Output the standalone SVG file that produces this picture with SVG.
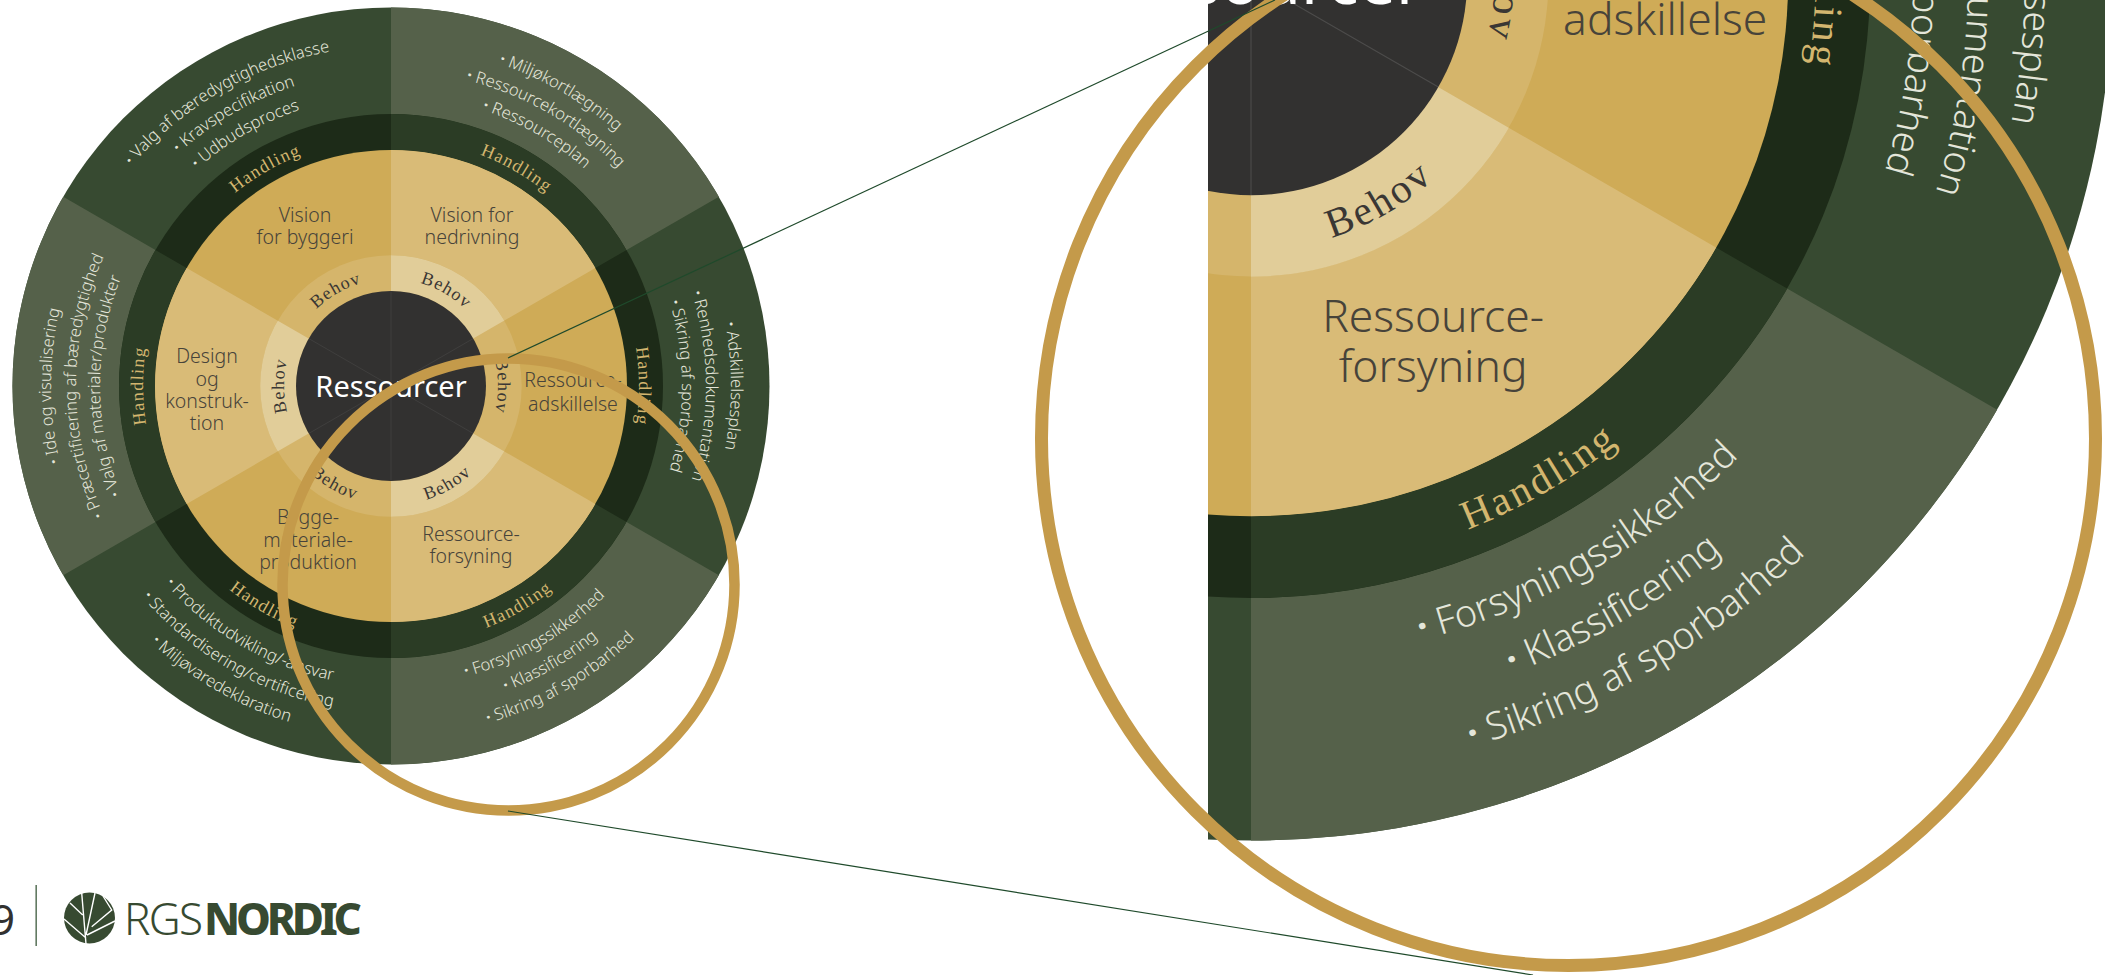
<svg xmlns="http://www.w3.org/2000/svg" xmlns:xlink="http://www.w3.org/1999/xlink" width="2105" height="975" viewBox="0 0 2105 975">
<style>
.list{font-family:"Noto Sans","Open Sans",sans-serif;font-weight:300;font-size:16.6px;fill:#e4e6da;text-anchor:middle}
.list tspan{font-weight:700}
.lab{font-family:"Noto Sans","Open Sans",sans-serif;font-weight:300;font-size:19.5px;fill:#47433a;text-anchor:middle}
.h{font-family:"Liberation Serif",serif;font-size:18px;letter-spacing:1.3px;fill:#d3b66f;text-anchor:middle}
.b{font-family:"Liberation Serif",serif;font-size:18px;letter-spacing:1.2px;fill:#3a3734;text-anchor:middle}
.c{font-family:"Noto Sans","Open Sans",sans-serif;font-size:29px;fill:#fff;text-anchor:middle}
.seam{stroke:#fff;stroke-opacity:.13;stroke-width:.5;fill:none}
.vein{stroke:#fff;stroke-width:1.4;fill:none}
.ring{fill:none}
</style>
<defs>
<clipPath id="lightSectors"><polygon points="0,0 0,-1000 866,-500"/><polygon points="0,0 866,500 0,1000"/><polygon points="0,0 -866,500 -866,-500"/></clipPath>
<clipPath id="bigClip"><rect x="1208" y="0" width="897" height="975"/></clipPath>
<path id="a340" d="M-218.6-260.4A340 340 0 0 1 218.6-260.4"/>
<path id="a315" d="M-202.5-241.3A315 315 0 0 1 202.5-241.3"/>
<path id="a291" d="M-187.06-222.9A291 291 0 0 1 187.06-222.9"/>
<path id="a248" d="M-159.4-190A248 248 0 0 1 159.4-190"/>
<path id="a107" d="M-68.8-82A107 107 0 0 1 68.8-82"/>
<path id="i300" d="M-192.8 229.8A300 300 0 0 0 192.8 229.8"/>
<path id="i326" d="M-209.5 249.7A326 326 0 0 0 209.5 249.7"/>
<path id="i351" d="M-225.6 268.9A351 351 0 0 0 225.6 268.9"/>
<path id="i260" d="M-167.1 199.2A260 260 0 0 0 167.1 199.2"/>
<path id="i119" d="M-76.5 91.2A119 119 0 0 0 76.5 91.2"/>
<g id="discs">
<circle r="378.5" fill="#374a31"/><circle r="272" fill="#1d2b18"/><circle r="236" fill="#cfab57"/><circle r="130.7" fill="#d5b56b"/>
<g clip-path="url(#lightSectors)">
<circle class="ring" r="325.25" stroke="#55614a" stroke-width="106.5"/>
<circle class="ring" r="254" stroke="#2b3c25" stroke-width="36"/>
<circle class="ring" r="183.35" stroke="#d9bb77" stroke-width="105.3"/>
<circle class="ring" r="112.8" stroke="#e1cd99" stroke-width="36"/>
</g>
<circle r="95" fill="#323130"/>
<path class="seam" d="M0-95V95M-82.3-47.5L82.3 47.5M-82.3 47.5L82.3-47.5"/>
</g>
</defs>

<g id="wheel" transform="translate(391,386)">
<use href="#discs"/>
<g id="sector-vision-byggeri">
<text class="lab" x="-86" y="-164">Vision</text><text class="lab" x="-86" y="-142">for byggeri</text>
<text class="b" transform="rotate(-30)"><textPath href="#a107" startOffset="50%">Behov</textPath></text>
<text class="h" transform="rotate(-30)"><textPath href="#a248" startOffset="50%">Handling</textPath></text>
<text class="list" transform="rotate(-30)"><textPath href="#a340" startOffset="50%"><tspan>·</tspan> Valg af bæredygtighedsklasse</textPath></text>
<text class="list" transform="rotate(-30)"><textPath href="#a315" startOffset="50%"><tspan>·</tspan> Kravspecifikation</textPath></text>
<text class="list" transform="rotate(-30)"><textPath href="#a291" startOffset="50%"><tspan>·</tspan> Udbudsproces</textPath></text>
</g>
<g id="sector-vision-nedrivning">
<text class="lab" x="81" y="-164">Vision for</text><text class="lab" x="81" y="-142">nedrivning</text>
<text class="b" transform="rotate(30)"><textPath href="#a107" startOffset="50%">Behov</textPath></text>
<text class="h" transform="rotate(30)"><textPath href="#a248" startOffset="50%">Handling</textPath></text>
<text class="list" transform="rotate(30)"><textPath href="#a340" startOffset="50%"><tspan>·</tspan> Miljøkortlægning</textPath></text>
<text class="list" transform="rotate(30)"><textPath href="#a315" startOffset="50%"><tspan>·</tspan> Ressourcekortlægning</textPath></text>
<text class="list" transform="rotate(30)"><textPath href="#a291" startOffset="50%"><tspan>·</tspan> Ressourceplan</textPath></text>
</g>
<g id="sector-adskillelse">
<text class="lab" x="182" y="1">Ressource-</text><text class="lab" x="182" y="24.6">adskillelse</text>
<text class="b" transform="rotate(90)"><textPath href="#a107" startOffset="50%">Behov</textPath></text>
<text class="h" transform="rotate(90)"><textPath href="#a248" startOffset="50%">Handling</textPath></text>
<text class="list" transform="rotate(90)"><textPath href="#a340" startOffset="50%"><tspan>·</tspan> Adskillelsesplan</textPath></text>
<text class="list" transform="rotate(90)"><textPath href="#a315" startOffset="50%"><tspan>·</tspan> Renhedsdokumentation</textPath></text>
<text class="list" transform="rotate(90)"><textPath href="#a291" startOffset="50%"><tspan>·</tspan> Sikring af sporbarhed</textPath></text>
</g>
<g id="sector-forsyning">
<text class="lab" x="80" y="155">Ressource-</text><text class="lab" x="80" y="177">forsyning</text>
<text class="b" transform="rotate(-30)"><textPath href="#i119" startOffset="50%">Behov</textPath></text>
<text class="h" transform="rotate(-30)"><textPath href="#i260" startOffset="50%">Handling</textPath></text>
<text class="list" transform="rotate(-30)"><textPath href="#i300" startOffset="50%"><tspan>·</tspan> Forsyningssikkerhed</textPath></text>
<text class="list" transform="rotate(-30)"><textPath href="#i326" startOffset="50%"><tspan>·</tspan> Klassificering</textPath></text>
<text class="list" transform="rotate(-30)"><textPath href="#i351" startOffset="50%"><tspan>·</tspan> Sikring af sporbarhed</textPath></text>
</g>
<g id="sector-produktion">
<text class="lab" x="-83" y="138">Bygge-</text><text class="lab" x="-83" y="161">materiale-</text><text class="lab" x="-83" y="183">produktion</text>
<text class="b" transform="rotate(30)"><textPath href="#i119" startOffset="50%">Behov</textPath></text>
<text class="h" transform="rotate(30)"><textPath href="#i260" startOffset="50%">Handling</textPath></text>
<text class="list" transform="rotate(30)"><textPath href="#i300" startOffset="50%"><tspan>·</tspan> Produktudvikling/-ansvar</textPath></text>
<text class="list" transform="rotate(30)"><textPath href="#i326" startOffset="50%"><tspan>·</tspan> Standardisering/certificering</textPath></text>
<text class="list" transform="rotate(30)"><textPath href="#i351" startOffset="50%"><tspan>·</tspan> Miljøvaredeklaration</textPath></text>
</g>
<g id="sector-design">
<text class="lab" x="-184" y="-23">Design</text><text class="lab" x="-184" y="0">og</text><text class="lab" x="-184" y="22">konstruk-</text><text class="lab" x="-184" y="44">tion</text>
<text class="b" transform="rotate(-90)"><textPath href="#a107" startOffset="50%">Behov</textPath></text>
<text class="h" transform="rotate(-90)"><textPath href="#a248" startOffset="50%">Handling</textPath></text>
<text class="list" transform="rotate(-90)"><textPath href="#a340" startOffset="50%"><tspan>·</tspan> Ide og visualisering</textPath></text>
<text class="list" transform="rotate(-90)"><textPath href="#a315" startOffset="50%"><tspan>·</tspan> Præcertificering af bæredygtighed</textPath></text>
<text class="list" transform="rotate(-90)"><textPath href="#a291" startOffset="50%"><tspan>·</tspan> Valg af materialer/produkter</textPath></text>
</g>
<g id="center"><text class="c" x="0" y="11">Ressourcer</text></g>
</g>

<g id="zoom-wheel" clip-path="url(#bigClip)">
<g transform="translate(1251,-21) scale(2.276)">
<use href="#discs"/>
<text class="lab" x="182" y="24.6">adskillelse</text>
<text class="b" transform="rotate(90)"><textPath href="#a107" startOffset="50%">Behov</textPath></text>
<text class="h" transform="rotate(90)"><textPath href="#a248" startOffset="50%">Handling</textPath></text>
<text class="list" transform="rotate(90)"><textPath href="#a340" startOffset="50%"><tspan>·</tspan> Adskillelsesplan</textPath></text>
<text class="list" transform="rotate(90)"><textPath href="#a315" startOffset="50%"><tspan>·</tspan> Renhedsdokumentation</textPath></text>
<text class="list" transform="rotate(90)"><textPath href="#a291" startOffset="50%"><tspan>·</tspan> Sikring af sporbarhed</textPath></text>
<text class="lab" x="80" y="155">Ressource-</text><text class="lab" x="80" y="177">forsyning</text>
<text class="b" transform="rotate(-30)"><textPath href="#i119" startOffset="50%">Behov</textPath></text>
<text class="h" transform="rotate(-30)"><textPath href="#i260" startOffset="50%">Handling</textPath></text>
<text class="list" transform="rotate(-30)"><textPath href="#i300" startOffset="50%"><tspan>·</tspan> Forsyningssikkerhed</textPath></text>
<text class="list" transform="rotate(-30)"><textPath href="#i326" startOffset="50%"><tspan>·</tspan> Klassificering</textPath></text>
<text class="list" transform="rotate(-30)"><textPath href="#i351" startOffset="50%"><tspan>·</tspan> Sikring af sporbarhed</textPath></text>
<text class="c" x="0" y="11">Ressourcer</text>
</g>
</g>

<g id="lens-rings" fill="none" stroke="#c49a4a">
<circle cx="508.5" cy="584.5" r="226" stroke-width="10.5"/>
<circle cx="1568.5" cy="438.5" r="527" stroke-width="13"/>
</g>
<g id="connectors" stroke="#1f4a2b" stroke-width="1.2">
<line x1="508" y1="358" x2="1275" y2="0"/>
<line x1="508" y1="811" x2="1533" y2="975"/>
</g>

<g id="footer">
<text x="-9" y="935" font-family="'Noto Sans',sans-serif" font-size="42" fill="#323130">9</text>
<rect x="35.5" y="885" width="1.3" height="61" fill="#3e5b3e"/>
<g id="logo">
<circle cx="89.5" cy="918" r="25.5" fill="#374a31"/>
<path class="vein" d="M86 944L81.7 893M86 935L95 893M87 935L115 921M91.7 926.7L111.7 910L103 896M64 919L86 938M70 903L82.7 915"/>
<text x="124" y="935" font-family="'Noto Sans',sans-serif" font-weight="300" font-size="44" fill="#374a31" textLength="79">RGS</text>
<text x="204" y="935" font-family="'Noto Sans',sans-serif" font-weight="800" font-size="44" fill="#374a31" textLength="158">NORDIC</text>
</g>
</g>
</svg>
